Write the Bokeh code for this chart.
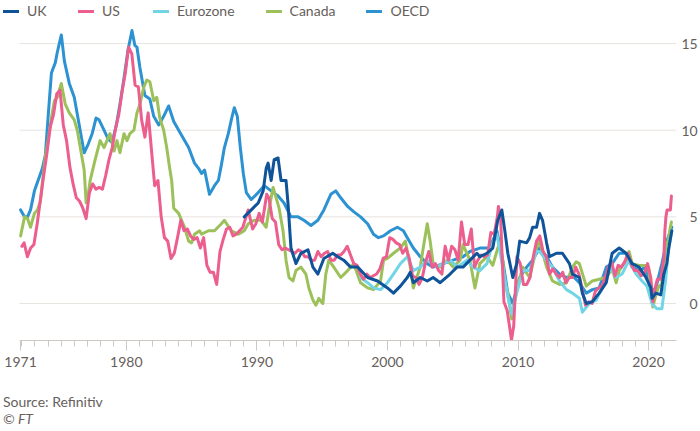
from bokeh.plotting import figure
from bokeh.models import Range1d, FixedTicker, Legend, LegendItem, Div
from bokeh.layouts import column
from bokeh.embed import file_html
from bokeh.resources import INLINE

# ---------------- data (annual % change in consumer prices) ----------------
series_names = ["UK", "US", "Eurozone", "Canada", "OECD"]

uk_t = [1989.03, 1989.57, 1990.10, 1990.48, 1990.71, 1990.86, 1991.09, 1991.32, 1991.62, 1991.85,
        1992.23, 1992.38, 1992.61, 1992.99, 1993.37, 1993.91, 1994.29, 1994.67, 1995.13, 1995.81,
        1996.19, 1996.65, 1997.18, 1997.72, 1998.48, 1999.24, 2000.00, 2000.46, 2000.99, 2001.52,
        2001.75, 2001.98, 2002.51, 2003.05, 2003.50, 2004.04, 2004.80, 2005.33, 2005.79, 2006.32,
        2006.85, 2007.08, 2007.62, 2008.07, 2008.45, 2008.76, 2008.99, 2009.22, 2009.60, 2009.90,
        2010.13, 2010.66, 2010.89, 2011.12, 2011.42, 2011.65, 2011.88, 2012.19, 2012.41, 2012.95,
        2013.40, 2013.94, 2014.17, 2014.70, 2014.93, 2015.23, 2015.69, 2016.22, 2016.76, 2017.21,
        2017.75, 2018.28, 2018.74, 2019.27, 2019.80, 2020.18, 2020.26, 2020.56, 2020.94, 2021.17,
        2021.40, 2021.55, 2021.78]
uk_v = [5.0, 5.4, 5.8, 6.5, 7.8, 8.1, 7.1, 8.3, 8.4, 7.1,
        7.1, 5.8, 3.2, 2.3, 2.9, 3.1, 2.1, 1.7, 2.6, 2.9,
        2.7, 2.5, 2.1, 2.1, 1.5, 1.3, 0.9, 0.6, 1.0, 1.5,
        1.8, 1.2, 1.5, 1.3, 1.5, 1.2, 1.7, 2.1, 2.1, 2.5,
        2.9, 2.7, 2.9, 3.2, 4.8, 5.4, 4.2, 2.9, 1.5, 2.3,
        3.6, 3.5, 3.8, 4.4, 4.4, 5.2, 4.8, 3.5, 2.7, 2.9,
        2.9, 2.3, 1.7, 1.5, 0.6, 0.0, 0.1, 0.6, 1.2, 2.9,
        3.2, 2.9, 2.3, 2.1, 1.5, 0.9, 0.3, 0.6, 0.5, 1.7,
        2.3, 3.2, 4.2]

us_t = [1972.00, 1972.17, 1972.42, 1972.67, 1972.92, 1973.17, 1973.42, 1973.67, 1973.92,
        1974.17, 1974.42, 1974.67, 1974.92, 1975.17, 1975.42, 1975.67, 1975.92,
        1976.17, 1976.42, 1976.67, 1976.92, 1977.17, 1977.42, 1977.67, 1977.92,
        1978.17, 1978.42, 1978.67, 1978.92, 1979.17, 1979.42, 1979.67, 1979.92,
        1980.17, 1980.42, 1980.67, 1980.92, 1981.17, 1981.42, 1981.67, 1981.92,
        1982.17, 1982.42, 1982.67, 1982.92, 1983.17, 1983.42, 1983.67, 1983.92,
        1984.17, 1984.42, 1984.67, 1984.92, 1985.17, 1985.42, 1985.67, 1985.92,
        1986.17, 1986.42, 1986.67, 1986.92, 1987.17, 1987.42, 1987.67, 1987.92,
        1988.17, 1988.42, 1988.67, 1988.92, 1989.17, 1989.33, 1989.67, 1989.92,
        1990.17, 1990.42, 1990.75, 1990.92, 1991.17, 1991.42, 1991.67, 1991.92,
        1992.17, 1992.42, 1992.67, 1992.92, 1993.17, 1993.42, 1993.67, 1993.92,
        1994.17, 1994.42, 1994.67, 1994.92, 1995.17, 1995.42, 1995.67, 1995.92,
        1996.17, 1996.42, 1996.67, 1996.92, 1997.17, 1997.42, 1997.67, 1997.92,
        1998.17, 1998.42, 1998.67, 1998.92, 1999.17, 1999.42, 1999.67, 1999.92,
        2000.17, 2000.42, 2000.67, 2000.92, 2001.17, 2001.42, 2001.67, 2001.92,
        2002.17, 2002.42, 2002.67, 2002.92, 2003.17, 2003.42, 2003.67, 2003.92,
        2004.17, 2004.42, 2004.67, 2004.92, 2005.17, 2005.42, 2005.67, 2005.92,
        2006.17, 2006.42, 2006.67, 2006.92, 2007.17, 2007.42, 2007.67, 2007.92,
        2008.17, 2008.42, 2008.50, 2008.67, 2008.92, 2009.17, 2009.50, 2009.67, 2009.92,
        2010.17, 2010.42, 2010.67, 2010.92, 2011.17, 2011.42, 2011.67, 2011.92,
        2012.17, 2012.42, 2012.67, 2012.92, 2013.17, 2013.42, 2013.67, 2013.92,
        2014.17, 2014.42, 2014.67, 2014.92, 2015.17, 2015.42, 2015.67, 2015.92,
        2016.17, 2016.42, 2016.67, 2016.92, 2017.17, 2017.42, 2017.67, 2017.92,
        2018.17, 2018.42, 2018.67, 2018.92, 2019.17, 2019.42, 2019.67, 2019.92,
        2020.17, 2020.33, 2020.42, 2020.67, 2020.92, 2021.17, 2021.25, 2021.33,
        2021.42, 2021.67, 2021.75]
us_v = [3.3, 3.5, 2.7, 3.2, 3.4, 4.6, 6.0, 7.4, 8.7,
        10.2, 10.9, 12.1, 12.3, 10.3, 9.4, 7.9, 6.9,
        6.1, 5.9, 5.5, 4.9, 6.4, 6.9, 6.6, 6.7,
        6.6, 7.4, 8.3, 9.0, 10.1, 10.9, 12.2, 13.3,
        14.8, 14.4, 12.6, 12.5, 10.6, 9.6, 11.0, 8.9,
        6.8, 7.1, 5.0, 3.8, 3.6, 2.6, 2.9, 3.8,
        4.8, 4.2, 4.3, 3.9, 3.7, 3.8, 3.2, 3.8,
        2.2, 1.8, 1.8, 1.1, 3.0, 3.7, 4.3, 4.4,
        3.9, 4.0, 4.2, 4.4, 5.0, 5.4, 4.3, 4.6,
        5.2, 4.7, 6.3, 6.1, 4.9, 4.7, 3.4, 3.1,
        3.2, 3.1, 3.0, 2.9, 3.1, 3.0, 2.7, 2.7,
        2.5, 2.5, 3.0, 2.7, 2.9, 3.0, 2.5, 2.5,
        2.8, 2.8, 3.0, 3.3, 2.8, 2.3, 2.2, 1.7,
        1.4, 1.7, 1.5, 1.6, 1.7, 2.0, 2.6, 2.7,
        3.8, 3.7, 3.5, 3.4, 2.9, 3.2, 2.6, 1.6,
        1.5, 1.1, 1.5, 2.4, 3.0, 2.1, 2.3, 1.9,
        1.7, 3.3, 2.5, 3.3, 3.1, 2.5, 4.7, 3.4,
        3.4, 4.3, 2.1, 2.5, 2.8, 2.7, 2.8, 4.1,
        4.0, 5.0, 5.6, 4.9, 0.1, -0.4, -2.1, -1.3, 2.7,
        2.3, 1.1, 1.1, 1.5, 2.7, 3.6, 3.9, 3.0,
        2.7, 1.7, 2.0, 1.7, 1.5, 1.8, 1.2, 1.5,
        1.5, 2.1, 1.7, 0.8, -0.1, 0.1, 0.0, 0.7,
        0.9, 1.0, 1.5, 2.1, 2.4, 1.6, 2.2, 2.1,
        2.4, 2.9, 2.3, 1.9, 1.9, 1.6, 1.7, 2.3,
        1.5, 0.1, 0.6, 1.4, 1.4, 2.6, 4.2, 5.0,
        5.4, 5.4, 6.2]

ez_t = [1997.94, 1998.48, 1998.93, 1999.47, 2000.00, 2000.46, 2000.99, 2001.52, 2001.98, 2002.51,
        2003.05, 2003.81, 2004.27, 2004.80, 2005.33, 2006.09, 2006.55, 2007.08, 2007.62, 2008.07,
        2008.38, 2008.83, 2009.22, 2009.52, 2009.90, 2010.36, 2010.89, 2011.42, 2011.65, 2012.19,
        2012.64, 2013.18, 2013.71, 2014.17, 2014.70, 2014.93, 2015.46, 2015.99, 2016.45, 2016.98,
        2017.52, 2017.97, 2018.51, 2019.04, 2019.50, 2019.88, 2020.26, 2020.64, 2021.02, 2021.33,
        2021.48, 2021.78]
ez_v = [1.5, 1.2, 0.9, 0.8, 1.2, 1.7, 2.3, 2.7, 1.9, 2.1,
        2.5, 2.1, 2.3, 2.5, 2.1, 2.5, 2.1, 1.9, 2.3, 3.5,
        4.0, 2.1, 0.4, -0.6, 0.6, 1.9, 1.9, 3.0, 3.0, 2.5,
        2.1, 1.3, 0.8, 0.6, 0.3, -0.5, 0.0, 0.2, 0.9, 2.1,
        1.5, 1.7, 2.5, 1.7, 1.3, 1.0, 0.0, -0.3, -0.3, 1.5,
        2.9, 4.2]

ca_t = [1971.90, 1972.20, 1972.43, 1972.66, 1972.96, 1973.19, 1973.42, 1973.57, 1973.80, 1974.03,
        1974.26, 1974.49, 1974.71, 1975.02, 1975.32, 1975.63, 1976.01, 1976.24, 1976.47, 1976.77,
        1976.92, 1977.08, 1977.23, 1977.61, 1977.99, 1978.29, 1978.52, 1978.75, 1979.06, 1979.28,
        1979.51, 1979.82, 1980.05, 1980.27, 1980.58, 1980.81, 1981.04, 1981.34, 1981.57, 1981.80,
        1982.10, 1982.33, 1982.56, 1982.86, 1983.09, 1983.32, 1983.47, 1983.63, 1984.01, 1984.23,
        1984.46, 1984.77, 1985.00, 1985.22, 1985.61, 1985.76, 1986.29, 1986.75, 1987.28, 1987.51,
        1988.04, 1988.58, 1989.03, 1989.34, 1989.79, 1990.33, 1990.71, 1990.94, 1991.24, 1991.47,
        1991.70, 1992.00, 1992.23, 1992.46, 1992.76, 1992.99, 1993.37, 1993.75, 1993.98, 1994.29,
        1994.52, 1994.74, 1995.05, 1995.28, 1995.51, 1995.89, 1996.42, 1996.95, 1997.41, 1997.94,
        1998.48, 1998.93, 1999.47, 1999.70, 2000.00, 2000.46, 2000.99, 2001.37, 2001.75, 2001.98,
        2002.51, 2002.74, 2003.05, 2003.27, 2003.50, 2004.04, 2004.57, 2005.03, 2005.56, 2005.79,
        2006.32, 2006.70, 2007.08, 2007.62, 2008.07, 2008.45, 2008.62, 2008.83, 2008.99, 2009.22,
        2009.52, 2009.90, 2010.36, 2010.89, 2011.42, 2011.65, 2012.19, 2012.64, 2013.18, 2013.71,
        2014.17, 2014.45, 2014.70, 2015.23, 2015.69, 2016.22, 2016.76, 2017.21, 2017.52, 2017.75,
        2018.28, 2018.51, 2018.74, 2019.27, 2019.80, 2020.00, 2020.33, 2020.56, 2020.79, 2021.00,
        2021.17, 2021.33, 2021.50, 2021.67, 2021.75]
ca_v = [3.9, 5.0, 4.9, 4.4, 5.2, 5.4, 5.9, 7.0, 8.5, 9.5,
        10.7, 11.7, 11.9, 12.7, 11.5, 11.0, 10.6, 10.0, 9.0, 7.7,
        5.8, 6.3, 7.1, 8.3, 9.4, 9.0, 9.4, 9.8, 8.8, 9.4,
        8.7, 9.8, 9.4, 9.8, 10.0, 11.0, 11.5, 12.5, 12.9, 12.8,
        11.7, 11.9, 10.7, 10.0, 9.0, 7.8, 7.1, 5.5, 5.2, 4.8,
        4.4, 3.6, 3.5, 4.0, 4.2, 4.0, 4.2, 4.2, 4.6, 4.8,
        4.2, 4.0, 4.2, 4.6, 4.8, 4.8, 4.4, 5.5, 6.7, 6.1,
        5.5, 4.2, 2.5, 1.5, 1.3, 1.9, 2.1, 1.7, 0.9, 0.2,
        -0.1, 0.3, 0.0, 1.7, 2.5, 2.1, 1.5, 1.9, 2.3, 1.2,
        0.9, 0.8, 1.3, 2.5, 2.6, 2.9, 3.2, 3.6, 2.1, 0.9,
        2.1, 3.2, 4.6, 3.6, 2.3, 2.1, 2.5, 2.1, 2.5, 3.4,
        2.5, 0.9, 2.3, 2.7, 2.2, 3.2, 3.5, 2.5, 1.2, 0.6,
        -0.9, 0.8, 2.1, 1.5, 3.2, 3.6, 2.1, 1.3, 1.1, 1.2,
        2.1, 2.4, 2.3, 1.0, 1.3, 1.4, 1.5, 2.0, 1.2, 1.9,
        2.5, 3.0, 2.3, 2.2, 2.2, 2.1, -0.2, 0.5, 1.0, 1.1,
        2.2, 3.4, 3.6, 4.4, 4.7]

oecd_t = [1971.90, 1972.20, 1972.43, 1972.66, 1972.96, 1973.19, 1973.57, 1973.80, 1974.03, 1974.26,
          1974.56, 1974.71, 1975.02, 1975.25, 1975.63, 1976.01, 1976.39, 1976.77, 1977.08, 1977.38,
          1977.68, 1977.91, 1978.29, 1978.60, 1978.90, 1979.21, 1979.51, 1979.82, 1980.12, 1980.43,
          1980.65, 1980.81, 1981.04, 1981.42, 1981.80, 1982.10, 1982.48, 1982.86, 1983.24, 1983.63,
          1984.01, 1984.46, 1984.77, 1985.22, 1985.53, 1985.76, 1985.99, 1986.37, 1986.75, 1987.05,
          1987.28, 1987.51, 1987.81, 1988.04, 1988.27, 1988.50, 1988.73, 1988.96, 1989.19, 1989.57,
          1990.10, 1990.56, 1991.09, 1991.62, 1992.08, 1992.61, 1993.15, 1993.60, 1994.14, 1994.67,
          1995.13, 1995.66, 1996.04, 1996.42, 1996.95, 1997.41, 1997.94, 1998.48, 1998.93, 1999.31,
          1999.70, 2000.23, 2000.76, 2001.22, 2001.52, 2001.98, 2002.51, 2003.05, 2003.50, 2004.27,
          2005.03, 2005.79, 2006.32, 2007.08, 2007.84, 2008.38, 2008.83, 2009.22, 2009.60, 2010.13,
          2010.66, 2011.12, 2011.65, 2012.19, 2012.64, 2013.18, 2013.71, 2014.17, 2014.70, 2015.23,
          2015.69, 2016.22, 2016.76, 2017.21, 2017.75, 2018.28, 2018.74, 2019.27, 2019.80, 2020.18,
          2020.56, 2021.02, 2021.40, 2021.78]
oecd_v = [5.4, 5.0, 5.0, 5.4, 6.5, 7.0, 7.8, 8.6, 11.0, 13.3,
          13.9, 14.5, 15.5, 14.0, 12.7, 11.9, 10.3, 8.7, 9.2, 9.8,
          10.7, 10.6, 10.0, 9.5, 9.3, 10.2, 11.5, 13.0, 14.6, 15.75,
          14.9, 14.8, 13.6, 12.0, 11.8, 10.8, 10.3, 10.8, 11.4, 10.5,
          10.0, 9.4, 9.0, 8.1, 7.8, 7.5, 7.7, 6.3, 6.8, 7.1,
          8.0, 9.0, 9.8, 10.6, 11.3, 10.8, 9.0, 7.5, 6.4, 6.0,
          6.4, 6.8, 6.5, 6.2, 5.8, 5.0, 5.0, 4.8, 4.5, 4.8,
          5.4, 6.3, 6.5, 6.1, 5.6, 5.3, 5.0, 4.6, 4.0, 3.8,
          3.9, 4.2, 4.4, 4.2, 3.8, 3.2, 2.7, 2.3, 2.1, 2.3,
          2.5, 2.7, 3.0, 3.2, 3.2, 4.2, 2.5, 0.6, 0.0, 1.5,
          2.1, 2.5, 3.2, 2.7, 2.1, 1.7, 1.5, 1.6, 1.2, 0.6,
          0.8, 0.9, 2.1, 2.3, 2.9, 2.9, 2.1, 1.9, 2.1, 0.6,
          0.9, 2.3, 3.6, 4.4]

xtick_vals = [1971.9, 1980, 1990, 2000, 2010, 2020]
xtick_labels = ["1971", "1980", "1990", "2000", "2010", "2020"]
minor_years = list(range(1972, 2022))
ytick_vals = [0, 5, 10, 15]
ytick_labels = ["0", "5", "10", "15"]
source_text = "Source: Refinitiv"
credit_text = "© FT"

colors = {"UK": "#0f5499", "US": "#ec5e8d", "Eurozone": "#72d5e6",
          "Canada": "#9cc15a", "OECD": "#2d92d2"}
data = {"UK": (uk_t, uk_v), "US": (us_t, us_v), "Eurozone": (ez_t, ez_v),
        "Canada": (ca_t, ca_v), "OECD": (oecd_t, oecd_v)}

FONT = "Lato"
TXT = "#66605c"
GRID = "#e7e3df"
x_start, x_end = 1970.59, 2022.14
axis_start = 1971.82          # where the time axis and grid lines begin
y_start, y_end = -2.135, 17.37

p = figure(width=700, height=385, output_backend="svg", toolbar_location=None, tools="",
           x_range=Range1d(x_start, x_end), y_range=Range1d(y_start, y_end),
           y_axis_location="right", min_border_left=3, min_border_right=23,
           min_border_top=2, min_border_bottom=45, margin=0)
p.outline_line_color = None
p.background_fill_color = "white"
p.border_fill_color = "white"

# horizontal grid lines starting at the axis start
p.xgrid.visible = False
p.ygrid.visible = False
p.segment(x0=[axis_start] * len(ytick_vals), y0=ytick_vals,
          x1=[x_end] * len(ytick_vals), y1=ytick_vals,
          line_color=GRID, line_width=1)

# x axis
ax = p.xaxis[0]
ax.bounds = (axis_start, x_end)
ax.ticker = FixedTicker(ticks=xtick_vals, minor_ticks=minor_years)
ax.major_label_overrides = dict(zip(xtick_vals, xtick_labels))
ax.axis_line_color = "#cdc8c3"
ax.major_tick_line_color = "#cdc8c3"
ax.minor_tick_line_color = "#cdc8c3"
ax.major_tick_in = 0
ax.minor_tick_in = 0
ax.major_tick_out = 10
ax.minor_tick_out = 6
ax.major_label_standoff = 6
ax.major_label_text_font = FONT
ax.major_label_text_font_size = "14px"
ax.major_label_text_color = TXT

# y axis (right, labels only; single digits padded so they sit right-aligned)
ay = p.yaxis[0]
ay.ticker = FixedTicker(ticks=ytick_vals)
ay.major_label_overrides = {v: s.rjust(2, "\u2007") for v, s in zip(ytick_vals, ytick_labels)}
ay.axis_line_color = None
ay.major_tick_line_color = None
ay.minor_tick_line_color = None
ay.major_tick_out = 0
ay.major_tick_in = 0
ay.major_label_standoff = 5
ay.major_label_text_font = FONT
ay.major_label_text_font_size = "14px"
ay.major_label_text_color = TXT

# lines (draw order: OECD at back, UK on top)
renderers = {}
for name in ["OECD", "Canada", "Eurozone", "US", "UK"]:
    t, v = data[name]
    renderers[name] = p.line(t, v, line_color=colors[name], line_width=3,
                             line_join="round", line_cap="round")

legend = Legend(items=[LegendItem(label=n, renderers=[renderers[n]]) for n in series_names],
                orientation="horizontal", location="top_left",
                glyph_width=16, glyph_height=14, label_height=14, label_standoff=8,
                spacing=31, padding=0, margin=0, border_line_color=None,
                background_fill_alpha=0, label_text_font=FONT,
                label_text_font_size="14px", label_text_color=TXT)
p.add_layout(legend, "center")

note = Div(text=f"{source_text}<br><i>{credit_text}</i>", width=700, height=46, margin=0,
           styles={"font-family": FONT, "font-size": "14px", "line-height": "17px",
                   "color": TXT, "padding-top": "8px", "padding-left": "3px",
                   "box-sizing": "border-box", "background-color": "white"})

layout = column(p, note, spacing=0, margin=0)

open("out.html", "w").write(file_html(layout, INLINE))
